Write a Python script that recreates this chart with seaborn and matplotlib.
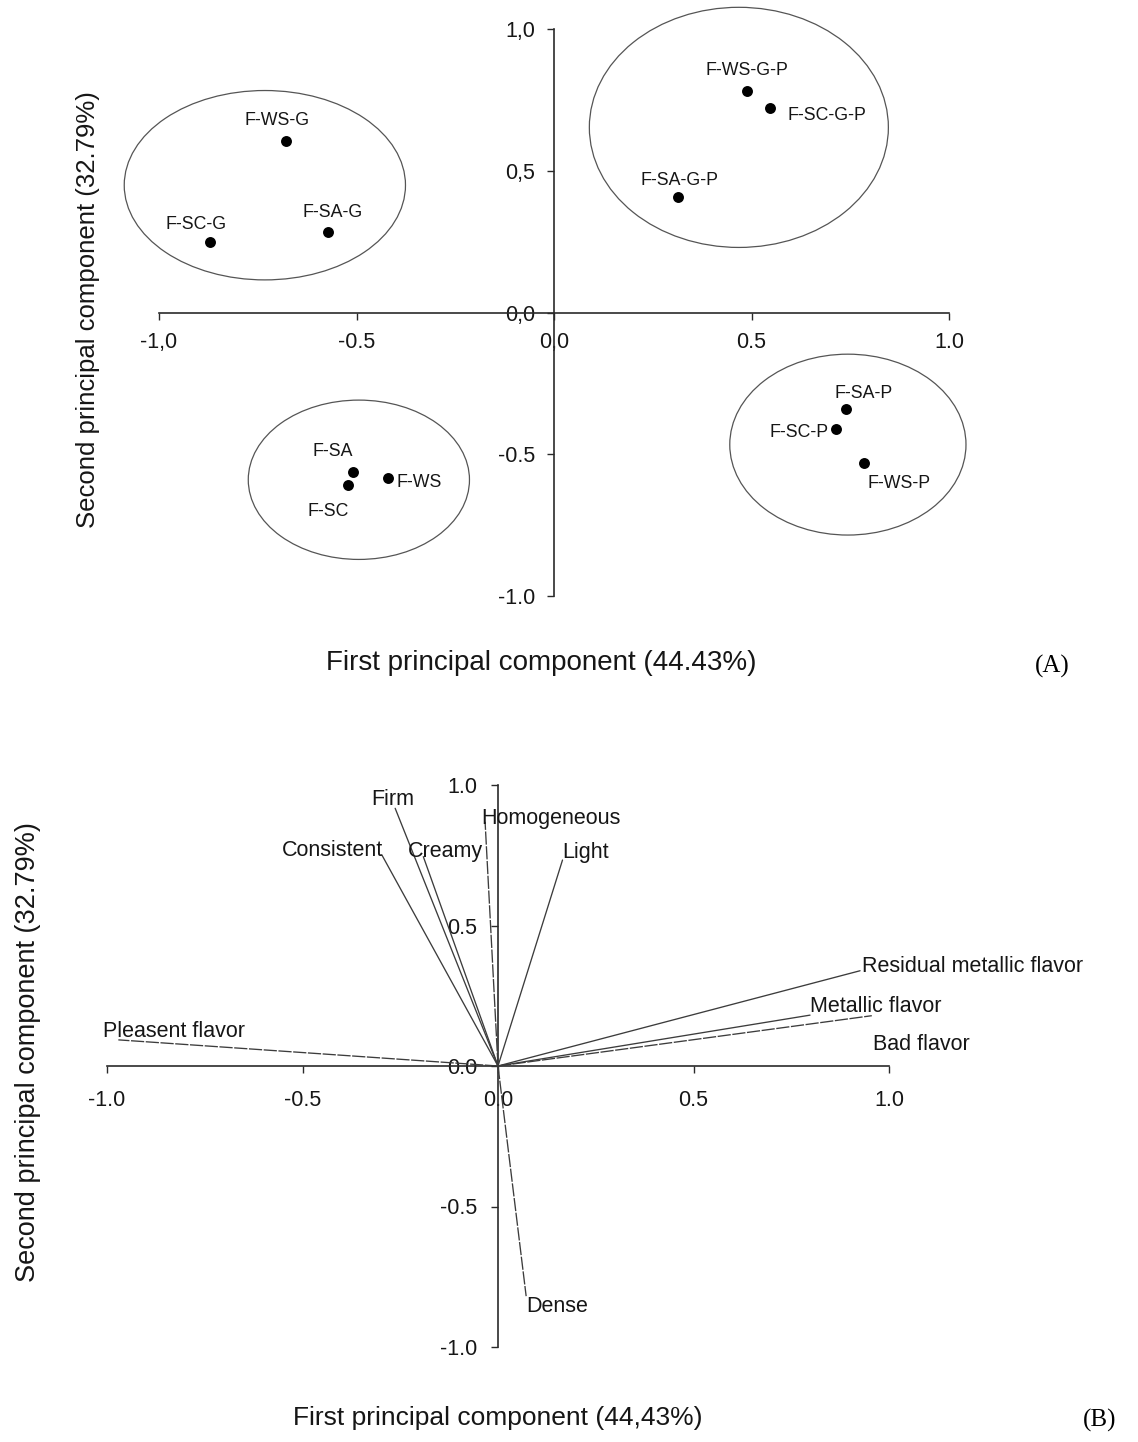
import numpy as np
import pandas as pd
import matplotlib
matplotlib.use("Agg")
import matplotlib.pyplot as plt
from matplotlib.patches import Ellipse
import seaborn as sns

# ---------------- data ----------------
# (A) sample scores on the first two principal components
samples = ["F-WS-G", "F-SC-G", "F-SA-G",
           "F-WS-G-P", "F-SC-G-P", "F-SA-G-P",
           "F-SA", "F-SC", "F-WS",
           "F-SA-P", "F-SC-P", "F-WS-P"]
score_pc1 = [-0.679, -0.871, -0.571, 0.489, 0.547, 0.314,
             -0.508, -0.521, -0.419, 0.739, 0.714, 0.785]
score_pc2 = [0.606, 0.250, 0.285, 0.782, 0.722, 0.407,
             -0.563, -0.608, -0.583, -0.342, -0.410, -0.530]

# groups outlined by ellipses (centre, full width, full height)
group_names = ["G", "G-P", "plain", "P"]
group_cx = [-0.732, 0.468, -0.494, 0.744]
group_cy = [0.449, 0.653, -0.590, -0.466]
group_w = [0.712, 0.757, 0.560, 0.598]
group_h = [0.668, 0.847, 0.562, 0.638]

# (B) attribute loadings
attributes = ["Pleasent flavor", "Consistent", "Firm", "Creamy", "Homogeneous",
              "Light", "Residual metallic flavor", "Metallic flavor",
              "Bad flavor", "Dense"]
load_pc1 = [-0.971, -0.297, -0.263, -0.191, -0.033, 0.165, 0.926, 0.798, 0.956, 0.072]
load_pc2 = [0.093, 0.751, 0.917, 0.745, 0.869, 0.733, 0.339, 0.181, 0.179, -0.819]
load_line = ["dashed", "solid", "solid", "solid", "dashed",
             "solid", "solid", "solid", "dashed", "dashed"]

ticks = [-1.0, -0.5, 0.0, 0.5, 1.0]
xtick_labels_a = ["-1,0", "-0.5", "0,0", "0.5", "1.0"]
ytick_labels_a = ["-1.0", "-0.5", "0,0", "0,5", "1,0"]
xtick_labels_b = ["-1.0", "-0.5", "0.0", "0.5", "1.0"]
ytick_labels_b = ["-1.0", "-0.5", "0.0", "0.5", "1.0"]

xlabel_a = "First principal component (44.43%)"
xlabel_b = "First principal component (44,43%)"
ylabel = "Second principal component (32.79%)"

# ---------------- styling ----------------
sns.set_theme(style="white")
plt.rcParams["font.family"] = ["Liberation Sans", "DejaVu Sans"]

W, H = 1138, 1442
fig = plt.figure(figsize=(W / 100, H / 100), dpi=100)
fig.patch.set_facecolor("white")

TXT = "#161616"
AX = "#2a2a2a"
LIM = 1.1


def make_axes(ox, oy, ux, uy):
    left, right = ox - LIM * ux, ox + LIM * ux
    top, bottom = oy - LIM * uy, oy + LIM * uy
    return fig.add_axes([left / W, 1 - bottom / H, (right - left) / W, (bottom - top) / H])


def cross_axes(ax, xlabels, ylabels, size, xpad, ypad):
    ax.set_xlim(-LIM, LIM)
    ax.set_ylim(-LIM, LIM)
    ax.set_facecolor("none")
    for s in ["top", "right"]:
        ax.spines[s].set_visible(False)
    for s in ["left", "bottom"]:
        ax.spines[s].set_position(("data", 0))
        ax.spines[s].set_bounds(-1, 1)
        ax.spines[s].set_color(AX)
        ax.spines[s].set_linewidth(1.2)
    ax.set_xticks(ticks)
    ax.set_yticks(ticks)
    ax.set_xticklabels(xlabels)
    ax.set_yticklabels(ylabels)
    ax.tick_params(axis="both", which="major", direction="out", length=5.2, width=1.0,
                   color=AX, labelcolor=TXT, labelsize=size, bottom=True, left=True)
    ax.tick_params(axis="x", pad=xpad)
    ax.tick_params(axis="y", pad=ypad)
    ax.set_xlabel("")
    ax.set_ylabel("")


# ---------------- panel A ----------------
axA = make_axes(554, 312.5, 395, 283.5)
cross_axes(axA, xtick_labels_a, ytick_labels_a, 15.5, 9, 8.5)

for cx, cy, w, h in zip(group_cx, group_cy, group_w, group_h):
    axA.add_patch(Ellipse((cx, cy), w, h, fill=False, edgecolor="#555555",
                          linewidth=0.9, clip_on=False))

scores = pd.DataFrame({"sample": samples, "pc1": score_pc1, "pc2": score_pc2})
sns.scatterplot(data=scores, x="pc1", y="pc2", color="black", s=62, linewidth=0,
                ax=axA, zorder=4, clip_on=False, legend=False)
axA.set_xlabel("")
axA.set_ylabel("")

# label placement: (dx, dy) in pixels, horizontal alignment
sample_label_pos = {
    "F-WS-G": (-9, 15.5, "center"), "F-SC-G": (-14, 12.5, "center"),
    "F-SA-G": (4, 15, "center"), "F-WS-G-P": (0, 15.5, "center"),
    "F-SC-G-P": (17, -12, "left"), "F-SA-G-P": (1, 12, "center"),
    "F-SA": (-21, 16, "center"), "F-SC": (-20, -31, "center"),
    "F-WS": (8, -9, "left"), "F-SA-P": (18, 11, "center"),
    "F-SC-P": (-7, -8, "right"), "F-WS-P": (3, -25.5, "left"),
}
for name, x, y in zip(samples, score_pc1, score_pc2):
    dx, dy, ha = sample_label_pos[name]
    axA.annotate(name, (x, y), xytext=(dx, dy), textcoords="offset pixels",
                 ha=ha, va="baseline", fontsize=12.8, color=TXT,
                 annotation_clip=False)

fig.text(88.5 / W, 1 - 310 / H, ylabel, rotation=90, ha="center", va="center",
         fontsize=18.5, color=TXT)
fig.text(541 / W, 1 - 663 / H, xlabel_a, ha="center", va="center",
         fontsize=20, color=TXT)
fig.text(1052 / W, 1 - 666 / H, "(A)", ha="center", va="center",
         fontsize=18, color="black", family=["Liberation Serif", "DejaVu Serif"])

# ---------------- panel B ----------------
axB = make_axes(498, 1066, 391, 281)
cross_axes(axB, xtick_labels_b, ytick_labels_b, 15.5, 12, 10)

rows = []
for a, x, y, st in zip(attributes, load_pc1, load_pc2, load_line):
    rows.append({"attr": a, "pc1": 0.0, "pc2": 0.0, "line": st})
    rows.append({"attr": a, "pc1": x, "pc2": y, "line": st})
vectors = pd.DataFrame(rows)
sns.lineplot(data=vectors, x="pc1", y="pc2", units="attr", estimator=None,
             style="line", dashes={"solid": "", "dashed": (10, 1.2)},
             color="#3c3c3c", linewidth=0.95, sort=False, legend=False,
             ax=axB, zorder=3)
axB.set_xlabel("")
axB.set_ylabel("")

attr_label_pos = {
    "Pleasent flavor": (-15, 3, "left"), "Consistent": (1, -1.5, "right"),
    "Firm": (-2, 3, "center"), "Creamy": (-15, 0, "left"),
    "Homogeneous": (-4, -2, "left"), "Light": (0, 2, "left"),
    "Residual metallic flavor": (2, -1, "left"), "Metallic flavor": (0, 3, "left"),
    "Bad flavor": (1, -34, "left"), "Dense": (0, -15.5, "left"),
}
for name, x, y in zip(attributes, load_pc1, load_pc2):
    dx, dy, ha = attr_label_pos[name]
    axB.annotate(name, (x, y), xytext=(dx, dy), textcoords="offset pixels",
                 ha=ha, va="baseline", fontsize=15.5, color=TXT,
                 annotation_clip=False)

fig.text(28 / W, 1 - 1052 / H, ylabel, rotation=90, ha="center", va="center",
         fontsize=19.5, color=TXT)
fig.text(498 / W, 1 - 1418 / H, xlabel_b, ha="center", va="center",
         fontsize=19, color=TXT)
fig.text(1100 / W, 1 - 1420 / H, "(B)", ha="center", va="center",
         fontsize=18, color="black", family=["Liberation Serif", "DejaVu Serif"])

fig.savefig("out.png", dpi=100, facecolor="white")
